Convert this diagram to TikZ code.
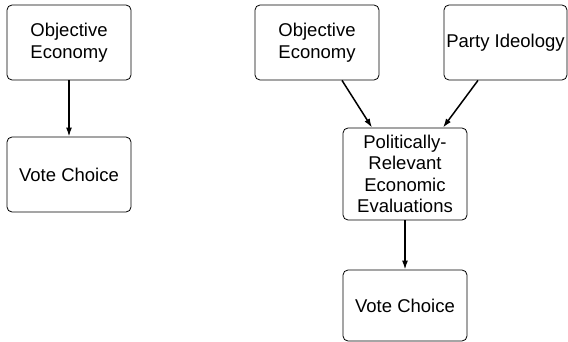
\documentclass[tikz,border=0pt]{standalone}
\usepackage{fontspec}
\setmainfont{Liberation Sans}
\usetikzlibrary{positioning,arrows.meta}

\tikzset{
  box/.style={draw, line width=0.8pt, rounded corners=5pt, minimum width=124pt,
    align=center, inner sep=1pt, font=\fontsize{18.5}{21.5}\selectfont},
  arr/.style={-{Latex[length=9pt,width=6pt]}, line width=1.5pt}
}

\begin{document}
\begin{tikzpicture}[x=1pt,y=-1pt]
  \useasboundingbox (0,0) rectangle (568,342);

  % simple model
  \node[box, minimum height=75pt] at (69,42.5) (econA) {Objective\\Economy};
  \node[box, minimum height=75pt] at (69,174.5) (voteA) {Vote Choice};
  \draw[arr] (econA) -- (voteA);

  % mediated model
  \node[box, minimum height=75pt] at (317,42.5) (econB) {Objective\\Economy};
  \node[box, minimum height=75pt, minimum width=123pt] at (505.5,42.5) (party) {Party Ideology};
  \node[box, minimum height=92pt] at (405,174) (evals) {Politically-\\Relevant\\Economic\\Evaluations};
  \node[box, minimum height=71pt] at (405,305.5) (voteB) {Vote Choice};

  \draw[arr] ([xshift=25pt]econB.south) -- ([xshift=-33pt]evals.north);
  \draw[arr] ([xshift=-27.5pt]party.south) -- ([xshift=38pt]evals.north);
  \draw[arr] (evals) -- (voteB);
\end{tikzpicture}
\end{document}
